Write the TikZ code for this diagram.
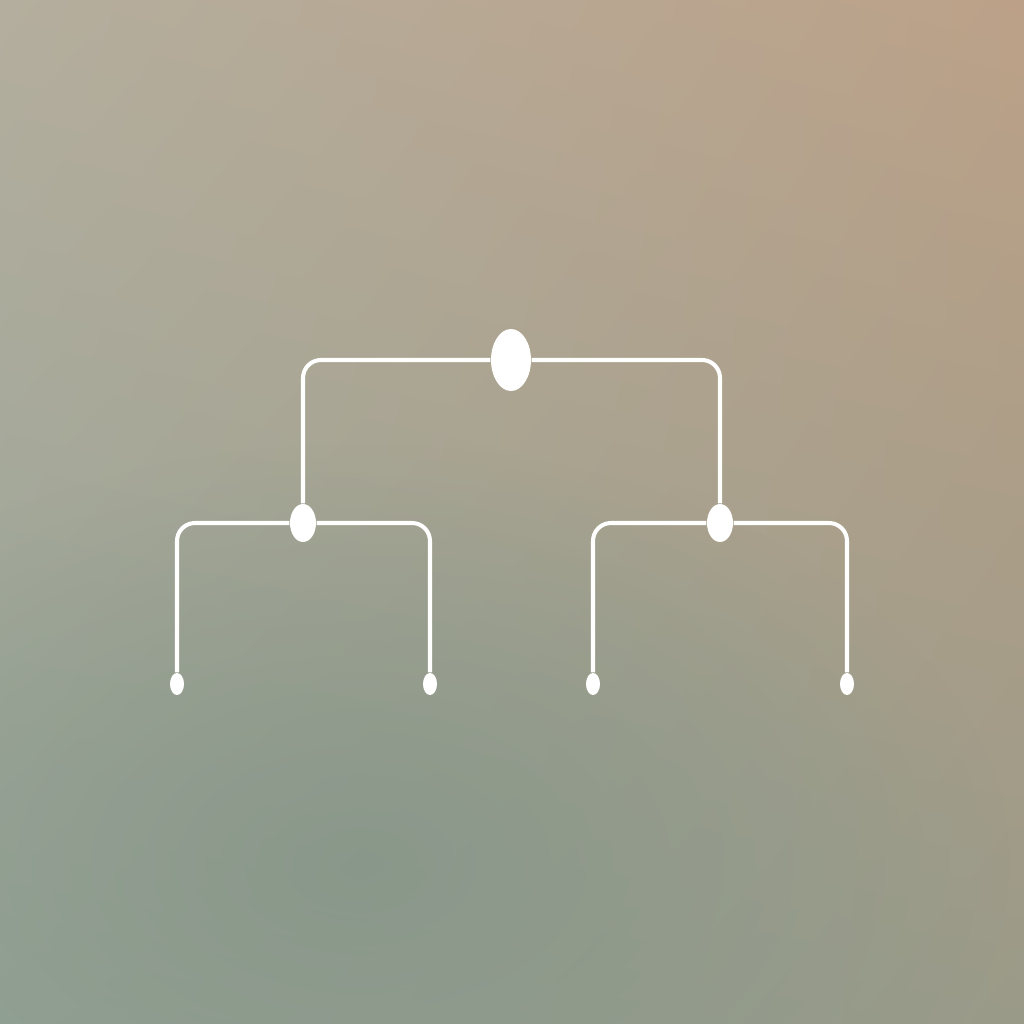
\documentclass[tikz,border=0pt]{standalone}
\usepackage{xcolor}
\usepackage{tikz}
\usetikzlibrary{shapes.geometric,shadings,fadings}
\definecolor{bgtopleft}{RGB}{180,174,158}
\definecolor{bgtopright}{RGB}{188,161,136}
\definecolor{bgbottomleft}{RGB}{148,163,150}
\definecolor{bgbottomright}{RGB}{154,154,136}
\definecolor{bgsage}{RGB}{134,150,137}
\definecolor{branchwhite}{RGB}{255,255,255}

\tikzfading[name=softspot, inner color=transparent!0, outer color=transparent!100]

\tikzset{
  branch/.style={draw=branchwhite, line width=1.15pt, rounded corners=0.18cm},
  rootdot/.style={ellipse, fill=branchwhite, inner sep=0pt, minimum width=0.40cm, minimum height=0.62cm},
  middot/.style={ellipse, fill=branchwhite, inner sep=0pt, minimum width=0.26cm, minimum height=0.38cm},
  leafdot/.style={ellipse, fill=branchwhite, inner sep=0pt, minimum width=0.14cm, minimum height=0.22cm}
}

\begin{document}
\begin{tikzpicture}
% background
\useasboundingbox (0,0) rectangle (10.24,10.24);
\shade[upper left=bgtopleft, upper right=bgtopright, lower left=bgbottomleft, lower right=bgbottomright] (0,0) rectangle (10.24,10.24);
\fill[bgsage, path fading=softspot, opacity=0.85] (3.6,1.6) ellipse (6.5cm and 4.2cm);

% nodes
\node[rootdot] (root) at (5.11,6.64) {};
\node[middot] (left) at (3.03,5.01) {};
\node[middot] (right) at (7.20,5.01) {};
\node[leafdot] (leafa) at (1.77,3.40) {};
\node[leafdot] (leafb) at (4.30,3.40) {};
\node[leafdot] (leafc) at (5.93,3.40) {};
\node[leafdot] (leafd) at (8.47,3.40) {};

% branches
\draw[branch] (root.west) -| (left.north);
\draw[branch] (root.east) -| (right.north);
\draw[branch] (left.west) -| (leafa.north);
\draw[branch] (left.east) -| (leafb.north);
\draw[branch] (right.west) -| (leafc.north);
\draw[branch] (right.east) -| (leafd.north);
\end{tikzpicture}
\end{document}
